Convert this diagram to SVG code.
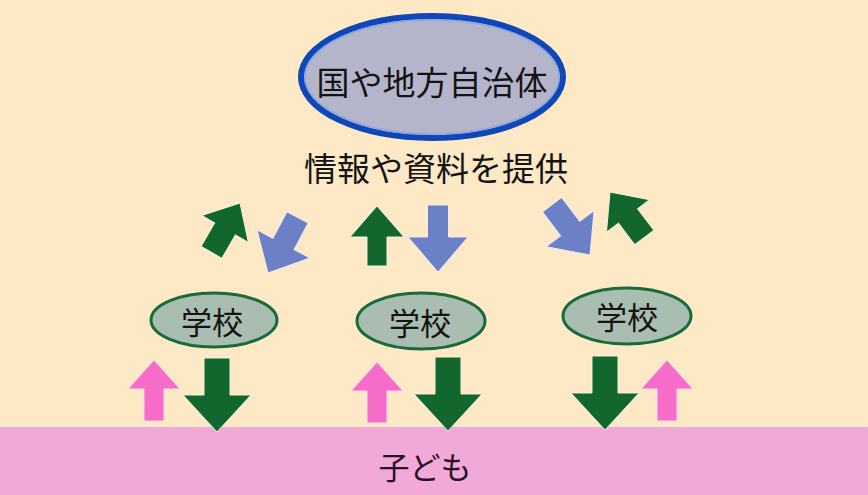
<svg xmlns="http://www.w3.org/2000/svg" width="868" height="495" viewBox="0 0 868 495">
<defs>
<style>
.t{font-family:"Noto Sans CJK JP","Noto Sans CJK SC",sans-serif;fill:#141414;text-anchor:middle;dominant-baseline:central}
.g{fill:#12672f;stroke:#f4f0d8;stroke-width:1}
.b{fill:#6c80c8;stroke:#f4e8f0;stroke-width:1}
.p{fill:#f56cc9;stroke:#fbe0ea;stroke-width:1}
.school{fill:#a9bdb1;stroke:#1b6a3a;stroke-width:3}
</style>
<polygon id="upG" points="0,0 27,31 10,31 10,60 -10,60 -10,31 -27,31"/>
<polygon id="downB" points="0,0 30,-35 10.5,-35 10.5,-67 -10.5,-67 -10.5,-35 -30,-35"/>
<polygon id="upGd" points="0,0 27,30 12,30 12,57 -12,57 -12,30 -27,30"/>
<polygon id="downBd" points="0,0 30,-33 12,-33 12,-63 -12,-63 -12,-33 -30,-33"/>
<polygon id="upP" points="0,0 26,29 10,29 10,61 -10,61 -10,29 -26,29"/>
<polygon id="downG" points="0,0 34,-37 13,-37 13,-74 -13,-74 -13,-37 -34,-37"/>
</defs>
<rect width="868" height="495" fill="#fde9c6"/>
<rect id="children-band" x="0" y="427" width="868" height="68" fill="#f1a9d8"/>

<g id="government">
<ellipse cx="432" cy="77" rx="131" ry="61" fill="#b4b5cb" stroke="#0f46b8" stroke-width="6"/>
<ellipse cx="432" cy="77" rx="127" ry="57" fill="none" stroke="#8aa6e0" stroke-width="1.5"/>
<text class="t" x="432" y="81" font-size="33">国や地方自治体</text>
</g>

<g id="label-provide">
<text class="t" x="436" y="167" font-size="33">情報や資料を提供</text>
</g>

<g id="school1">
<ellipse class="school" cx="214" cy="320" rx="63" ry="27"/>
<text class="t" x="212" y="320" font-size="31">学校</text>
</g>
<g id="school2">
<ellipse class="school" cx="421" cy="321" rx="64" ry="28"/>
<text class="t" x="420" y="321" font-size="31">学校</text>
</g>
<g id="school3">
<ellipse class="school" cx="627" cy="316" rx="64" ry="28"/>
<text class="t" x="627" y="315" font-size="31">学校</text>
</g>

<g id="children">
<text class="t" x="425" y="465" font-size="31" style="fill:#2a1028">子ども</text>
</g>

<g id="connectors">
<use href="#upGd" class="g" transform="translate(240,203) rotate(30)"/>
<use href="#downBd" class="b" transform="translate(268,273) rotate(28)"/>
<use href="#upG" class="g" transform="translate(377,206)"/>
<use href="#downB" class="b" transform="translate(438,272)"/>
<use href="#downBd" class="b" transform="translate(590,255) rotate(-37)"/>
<use href="#upGd" class="g" transform="translate(610,192) rotate(-37)"/>

<use href="#upP" class="p" transform="translate(154,360)"/>
<use href="#downG" class="g" transform="translate(217,432)"/>
<use href="#upP" class="p" transform="translate(377,362)"/>
<use href="#downG" class="g" transform="translate(448,431)"/>
<use href="#downG" class="g" transform="translate(605,430)"/>
<use href="#upP" class="p" transform="translate(667,360)"/>
</g>
</svg>
